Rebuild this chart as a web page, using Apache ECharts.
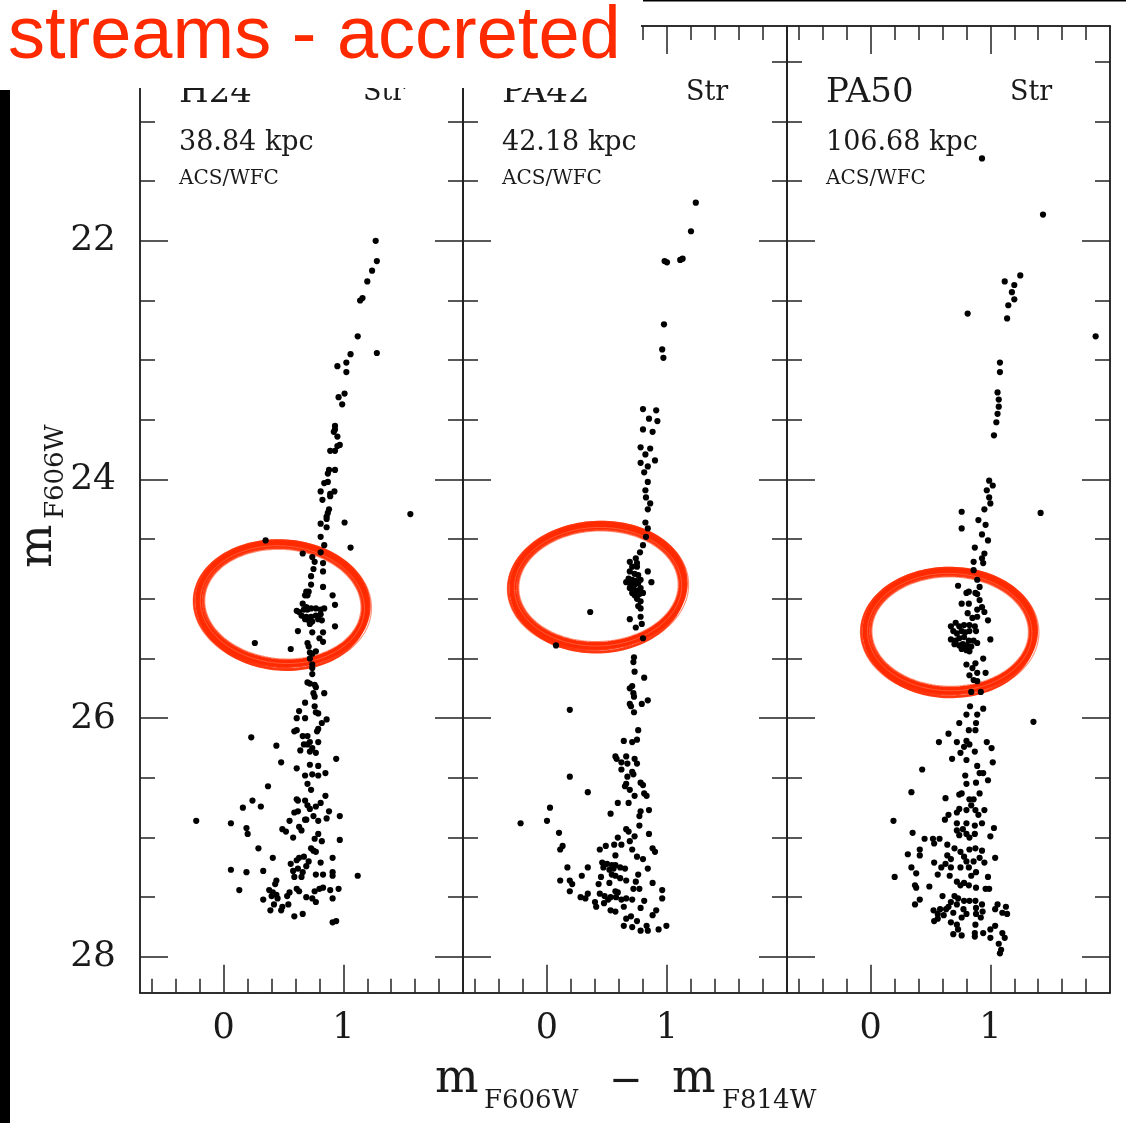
<!DOCTYPE html>
<html>
<head>
<meta charset="utf-8">
<script src="https://cdn.jsdelivr.net/npm/echarts@6/dist/echarts.min.js"></script>
<style>
html, body { margin: 0; padding: 0; background: #fff; }
#chart { width: 1126px; height: 1123px; }
</style>
</head>
<body>
<div id="chart"></div>
<script>
// ---- field metadata ----
const fieldNames = ['H24', 'PA42', 'PA50'];
const fieldDistances = ['38.84 kpc', '42.18 kpc', '106.68 kpc'];
const fieldCamera = ['ACS/WFC', 'ACS/WFC', 'ACS/WFC'];
const fieldFlag = ['Str', 'Str', 'Str'];

// ---- axes: colour (F606W - F814W) and magnitude (F606W) ----
const colorRange = [-0.7, 2.0];
const magRange = [20.2, 28.3];
const colorTicksMajor = [0, 1];
const colorTicksMinor = [-0.6, -0.4, -0.2, 0.2, 0.4, 0.6, 0.8, 1.2, 1.4, 1.6, 1.8];
const magTicksMajor = [22, 24, 26, 28];
const magTicksMinor = [20.5, 21, 21.5, 22.5, 23, 23.5, 24.5, 25, 25.5, 26.5, 27, 27.5];

// ---- stars: [colour, magnitude] ----
const h24Stars = [
  [1.27,22.00],[1.28,22.17],[1.24,22.25],[1.20,22.34],[1.14,22.50],[1.16,22.48],[1.12,22.80],[1.28,22.94],
  [1.06,22.95],[1.025,23.02],[0.95,23.05],[1.025,23.10],[1.01,23.28],[0.96,23.31],[0.99,23.37],[0.93,23.55],
  [0.93,23.58],[0.92,23.60],[0.95,23.64],[0.97,23.71],[0.95,23.72],[0.89,23.76],[0.93,23.76],[0.88,23.92],
  [0.93,23.92],[0.87,23.95],[0.84,24.03],[0.87,24.02],[0.81,24.10],[0.89,24.12],[0.925,24.10],[0.89,24.14],
  [0.825,24.17],[0.88,24.25],[0.87,24.28],[0.86,24.31],[0.86,24.33],[1.01,24.36],[0.81,24.37],[0.86,24.40],
  [1.56,24.29],[0.81,24.48],[1.06,24.57],[0.84,24.55],[0.81,24.61],[0.66,24.62],[0.74,24.65],[0.35,24.51],
  [0.76,24.69],[0.83,24.70],[0.75,24.75],[0.83,24.77],[0.73,24.81],[0.73,24.88],[0.83,24.90],[0.69,24.94],
  [0.71,24.94],[0.70,24.97],[0.68,24.97],[0.91,24.97],[0.93,25.05],[0.66,25.04],[0.69,25.07],
  [0.61,25.10],[0.63,25.11],[0.67,25.09],[0.70,25.09],[0.73,25.08],[0.77,25.08],[0.81,25.09],[0.84,25.08],
  [0.65,25.14],[0.69,25.15],[0.73,25.15],[0.77,25.14],[0.81,25.13],[0.71,25.18],[0.74,25.19],[0.68,25.17],
  [0.79,25.17],[0.82,25.18],[0.72,25.21],[0.93,25.23],[0.62,25.27],[0.74,25.28],[0.83,25.28],[0.80,25.33],
  [0.83,25.36],[0.26,25.37],[0.70,25.37],[0.71,25.40],[0.56,25.42],[0.72,25.45],[0.74,25.46],[0.77,25.44],
  [0.72,25.50],[0.74,25.55],[0.74,25.58],[0.74,25.63],[0.70,25.70],[0.72,25.71],[0.76,25.72],[0.77,25.74],
  [0.75,25.79],[0.76,25.82],[0.84,25.79],[0.68,25.87],[0.76,25.90],[0.77,25.95],[0.79,25.96],[0.63,25.94],
  [0.61,26.00],[0.68,26.00],[0.86,26.01],[0.82,26.04],[0.59,26.11],[0.61,26.10],[0.79,26.09],[0.78,26.11],
  [0.23,26.16],[0.70,26.15],[0.66,26.15],[0.72,26.20],[0.67,26.22],[0.79,26.20],[0.70,26.22],[0.44,26.23],
  [0.74,26.25],[0.64,26.27],[0.77,26.29],[0.72,26.28],[0.94,26.34],[0.48,26.37],[0.72,26.39],[0.79,26.40],
  [0.61,26.42],[0.68,26.48],[0.74,26.47],[0.79,26.48],[0.85,26.46],[0.70,26.55],[0.37,26.57],[0.73,26.60],
  [0.61,26.68],[0.62,26.69],[0.68,26.69],[0.70,26.73],[0.72,26.76],[0.24,26.69],[0.85,26.65],[0.81,26.71],
  [0.77,26.74],[0.16,26.75],[0.31,26.74],[0.88,26.78],[0.59,26.79],[0.62,26.78],[0.97,26.82],[0.75,26.82],
  [0.68,26.85],[0.69,26.85],[0.79,26.86],[0.86,26.84],[0.55,26.86],[-0.23,26.86],[0.06,26.88],[0.63,26.91],
  [0.65,26.94],[0.19,26.92],[0.20,26.97],[0.49,26.93],[0.52,26.95],[0.58,27.00],[0.79,26.97],[0.76,27.01],
  [0.82,27.03],[0.97,27.02],[0.29,27.09],[0.73,27.09],[0.75,27.11],[0.77,27.12],[0.41,27.17],[0.63,27.17],
  [0.61,27.19],[0.67,27.16],[0.71,27.20],[0.91,27.17],[0.56,27.22],[0.69,27.24],[0.81,27.21],[0.06,27.27],
  [0.19,27.29],[0.33,27.28],[0.58,27.28],[0.62,27.26],[0.66,27.29],[0.59,27.33],[0.65,27.33],[0.77,27.31],
  [0.83,27.31],[0.91,27.29],[0.91,27.32],[1.12,27.32],[0.44,27.36],[0.43,27.39],[0.13,27.44],[0.38,27.44],
  [0.41,27.46],[0.44,27.48],[0.40,27.49],[0.55,27.46],[0.61,27.43],[0.63,27.45],[0.76,27.45],[0.80,27.43],
  [0.83,27.42],[0.89,27.44],[0.96,27.43],[0.33,27.52],[0.45,27.51],[0.53,27.49],[0.69,27.50],[0.74,27.51],
  [0.77,27.54],[0.91,27.51],[0.42,27.56],[0.49,27.58],[0.54,27.56],[0.39,27.61],[0.48,27.61],[0.59,27.66],
  [0.66,27.64],[0.91,27.71],[0.94,27.70]
];

const pa42Stars = [
  [1.24,21.68],[1.20,21.92],[0.98,22.17],[1.00,22.18],[1.11,22.16],[1.13,22.15],[0.975,22.70],[0.96,22.91],
  [0.97,22.98],[0.80,23.41],[0.91,23.42],[0.85,23.49],[0.92,23.51],[0.80,23.58],[0.88,23.60],[0.78,23.73],
  [0.86,23.74],[0.82,23.79],[0.78,23.86],[0.84,23.89],[0.90,23.84],[0.81,23.94],[0.84,24.02],[0.82,24.09],
  [0.825,24.15],[0.86,24.20],[0.84,24.25],[0.82,24.36],[0.84,24.41],[0.825,24.48],[0.80,24.55],[0.775,24.61],
  [0.74,24.66],
  [0.69,24.69],[0.75,24.70],[0.71,24.73],[0.75,24.73],[0.69,24.77],[0.73,24.79],[0.76,24.80],[0.68,24.83],
  [0.71,24.84],[0.74,24.85],[0.78,24.84],[0.66,24.86],[0.69,24.87],[0.73,24.88],[0.76,24.87],[0.69,24.91],
  [0.72,24.92],[0.75,24.93],[0.78,24.91],[0.71,24.95],[0.73,24.97],[0.77,24.96],[0.75,25.00],[0.78,25.02],
  [0.76,25.06],[0.78,25.08],[0.84,24.77],[0.87,24.86],[0.80,24.95],
  [0.36,25.11],[0.69,25.17],[0.78,25.15],[0.79,25.21],[0.74,25.24],[0.80,25.33],[0.075,25.39],[0.725,25.49],
  [0.72,25.53],[0.73,25.61],[0.81,25.66],[0.71,25.73],[0.69,25.75],[0.72,25.79],[0.725,25.82],[0.84,25.85],
  [0.79,25.88],[0.69,25.88],[0.70,25.90],[0.725,25.95],[0.19,25.93],[0.76,26.10],[0.75,26.18],[0.71,26.20],
  [0.64,26.19],[0.57,26.32],[0.58,26.34],[0.66,26.32],[0.62,26.37],[0.67,26.38],[0.73,26.34],[0.75,26.38],
  [0.62,26.43],[0.71,26.45],[0.72,26.47],[0.67,26.49],[0.19,26.49],[0.66,26.55],[0.65,26.57],[0.78,26.54],
  [0.80,26.56],[0.69,26.60],[0.34,26.62],[0.73,26.65],[0.81,26.63],[0.83,26.65],[0.59,26.71],[0.68,26.71],
  [0.025,26.75],[0.78,26.78],[0.85,26.77],[0.77,26.82],[0.53,26.80],[0.00,26.86],[-0.22,26.88],[0.77,26.90],
  [0.66,26.93],[0.68,26.95],[0.10,26.96],[0.85,26.97],[0.59,27.00],[0.73,26.99],[0.69,27.03],[0.62,27.06],
  [0.56,27.06],[0.13,27.07],[0.11,27.10],[0.44,27.10],[0.49,27.07],[0.71,27.10],[0.88,27.09],[0.90,27.12],
  [0.57,27.15],[0.75,27.16],[0.80,27.18],[0.46,27.21],[0.50,27.22],[0.54,27.23],[0.57,27.23],[0.47,27.25],
  [0.61,27.25],[0.65,27.26],[0.52,27.27],[0.555,27.26],[0.34,27.25],[0.17,27.25],[0.84,27.26],[0.54,27.31],
  [0.76,27.31],[0.29,27.32],[0.45,27.33],[0.57,27.32],[0.61,27.34],[0.11,27.36],[0.19,27.36],[0.21,27.39],
  [0.43,27.39],[0.52,27.38],[0.66,27.36],[0.74,27.37],[0.88,27.38],[0.19,27.45],[0.34,27.47],[0.28,27.50],
  [0.32,27.51],[0.44,27.47],[0.48,27.49],[0.53,27.50],[0.57,27.45],[0.59,27.46],[0.575,27.50],[0.51,27.52],
  [0.62,27.52],[0.66,27.51],[0.71,27.52],[0.72,27.43],[0.77,27.43],[0.96,27.44],[0.96,27.51],[0.81,27.53],
  [0.40,27.54],[0.41,27.58],[0.475,27.55],[0.53,27.61],[0.57,27.62],[0.64,27.58],[0.66,27.68],[0.70,27.66],
  [0.78,27.59],[0.88,27.65],[0.91,27.61],[0.64,27.74],[0.71,27.75],[0.78,27.78],[0.83,27.74],[0.84,27.78],
  [0.93,27.77],[0.995,27.74],[0.75,27.70]
];

const pa50Stars = [
  [0.93,21.31],[1.44,21.78],[1.88,22.80],[0.81,22.61],[1.12,22.34],[1.25,22.29],[1.20,22.37],[1.18,22.43],
  [1.20,22.49],[1.15,22.54],[1.14,22.65],[1.08,23.02],[1.08,23.10],[1.06,23.27],[1.07,23.33],[1.07,23.39],
  [1.06,23.45],[1.05,23.52],[1.03,23.63],[0.99,24.01],[1.02,24.05],[0.97,24.09],[0.99,24.15],[1.00,24.20],
  [0.95,24.25],[0.76,24.27],[0.90,24.34],[0.96,24.38],[0.76,24.41],[0.93,24.46],[0.98,24.51],[0.87,24.57],
  [0.95,24.62],[0.93,24.66],[1.42,24.28],
  [0.86,24.69],[0.94,24.70],[0.86,24.76],[0.89,24.84],[0.91,24.90],[0.875,24.95],[0.89,24.96],[0.73,24.89],
  [0.80,24.95],[0.82,24.94],[0.76,25.04],[0.82,25.04],[0.91,25.01],[0.93,25.07],[0.89,25.09],[0.95,25.11],
  [0.81,25.12],[0.85,25.16],[0.98,25.18],[0.89,25.15],
  [0.67,25.23],[0.71,25.20],[0.74,25.23],[0.78,25.22],[0.825,25.22],[0.87,25.23],[0.69,25.27],[0.72,25.29],
  [0.76,25.27],[0.79,25.28],[0.825,25.27],[0.88,25.27],[0.67,25.34],[0.71,25.35],[0.74,25.33],[0.78,25.32],
  [0.82,25.35],[0.86,25.35],[0.70,25.38],[0.74,25.39],[0.77,25.38],[0.80,25.39],[0.84,25.40],[0.76,25.42],
  [0.80,25.43],[0.825,25.44],[1.00,25.34],[0.89,25.37],[0.94,25.50],[0.80,25.55],[0.875,25.54],[0.85,25.58],
  [0.89,25.62],[0.96,25.62],[0.825,25.64],[0.86,25.68],[0.89,25.69],[0.92,25.78],[0.84,25.78],[0.83,25.90],
  [0.94,25.92],[0.80,25.97],[0.89,25.97],[0.74,26.04],[0.82,26.10],[0.875,26.10],[0.88,26.04],[0.65,26.13],
  [0.72,26.20],[0.80,26.19],[0.97,26.20],[0.825,26.22],[0.78,26.24],[0.87,26.28],[0.75,26.29],[1.01,26.25],
  [0.68,26.34],[0.80,26.35],[1.36,26.03],[0.57,26.20],[0.43,26.43],[1.02,26.37],
  [0.89,26.40],[0.91,26.46],[0.94,26.46],[0.98,26.52],[0.79,26.48],[0.88,26.54],[0.80,26.55],[0.76,26.63],
  [0.74,26.64],[0.91,26.63],[0.825,26.68],[0.86,26.68],[0.84,26.73],[0.80,26.77],[0.875,26.77],[0.74,26.76],
  [0.95,26.77],[0.90,26.81],[0.34,26.62],[0.625,26.67],[0.62,26.85],[0.65,26.81],[0.72,26.79],[0.19,26.86],
  [0.72,26.88],[0.80,26.88],[0.87,26.90],[0.93,26.88],[1.03,26.92],[0.72,26.94],[0.77,26.93],[0.80,26.97],
  [0.74,26.98],[0.87,26.97],[1.00,26.99],[0.825,27.00],[0.35,26.96],[0.45,27.01],[0.52,27.01],[0.575,27.01],
  [0.53,27.05],[0.64,27.06],[0.70,27.09],[0.75,27.12],[0.825,27.10],[0.875,27.09],[0.93,27.11],[1.04,27.17],
  [0.31,27.14],[0.41,27.10],[0.41,27.15],[0.64,27.15],[0.67,27.18],[0.78,27.16],[0.80,27.20],[0.86,27.20],
  [0.91,27.17],[0.95,27.21],[0.53,27.21],[0.625,27.22],[0.67,27.25],[0.59,27.25],[0.75,27.25],[0.82,27.25],
  [0.88,27.29],[0.84,27.32],[0.34,27.25],[0.38,27.30],[0.56,27.31],[0.66,27.32],[0.20,27.33],[0.98,27.33],
  [0.72,27.37],[0.78,27.38],[0.82,27.40],[0.75,27.40],[0.88,27.42],[0.96,27.43],[0.99,27.43],[0.37,27.40],
  [0.38,27.42],[0.49,27.41],[0.60,27.49],[0.70,27.49],[0.73,27.51],[0.78,27.53],[0.825,27.53],[0.875,27.53],
  [0.72,27.56],[0.67,27.54],[0.41,27.52],[0.37,27.56],[0.65,27.58],[0.63,27.60],[0.58,27.60],[0.525,27.61],
  [0.56,27.64],[0.61,27.65],[0.69,27.63],[0.775,27.60],[0.80,27.64],[0.76,27.67],[0.88,27.59],[0.93,27.56],
  [0.935,27.62],[0.88,27.64],[0.92,27.67],[1.06,27.56],[1.13,27.58],[1.10,27.63],[1.14,27.64],[1.04,27.60],
  [0.56,27.68],[0.53,27.70],[0.67,27.71],[0.72,27.73],[0.875,27.73],[0.73,27.77],[0.69,27.81],[0.76,27.82],
  [0.87,27.80],[0.87,27.83],[0.94,27.80],[1.00,27.77],[1.04,27.74],[1.10,27.80],[1.12,27.84],[1.00,27.84],
  [1.07,27.89],[1.09,27.94],[1.08,27.97]
];

// ---- highlighted red clump rings: [colour centre, magnitude centre, colour radius, magnitude radius, tilt in degrees] ----
const h24Ring = [0.49, 25.04, 0.70, 0.50, 4];
const pa42Ring = [0.425, 24.89, 0.71, 0.505, -3];
const pa50Ring = [0.66, 25.27, 0.70, 0.50, 0];

const panelStars = [h24Stars, pa42Stars, pa50Stars];
const panelRings = [h24Ring, pa42Ring, pa50Ring];

// ---- layout ----
const panelLeft = [140, 463, 787];
const panelWidth = [323, 324, 323];
const panelTop = 26;
const panelHeight = 966.7;

const ink = '#1a1a1a';
const frameColor = '#222';
const serif = '"DejaVu Serif", "Liberation Serif", serif';
const ringRed = '#ff2a00';

// hand-drawn look: soft outer strokes first, the solid marker stroke on top
// (da/db: extra radii in px, dx/dy: shift, dt: extra tilt in rad)
const ringStrokes = [
  { da: 5.5,  db: 5,    dx: 0,    dy: 1,   dt: 0.005,  w: 1.2, c: '#ff6a48', o: 0.7 },
  { da: -5.5, db: -5,   dx: 0.5,  dy: 0.5, dt: 0.012,  w: 1.2, c: '#ff6a48', o: 0.7 },
  { da: 4,    db: 3.5,  dx: -0.5, dy: 0,   dt: -0.01,  w: 2.4, c: ringRed,   o: 0.9 },
  { da: -4,   db: -3.5, dx: 0.5,  dy: 0.5, dt: 0.012,  w: 2.4, c: ringRed,   o: 0.9 },
  { da: 1,    db: 3,    dx: 0,    dy: 3,   dt: 0.015,  w: 3,   c: ringRed,   o: 0.9 },
  { da: 0,    db: 0,    dx: 0,    dy: 0,   dt: 0,      w: 7,   c: ringRed,   o: 1 },
  { da: -1.5, db: -1,   dx: 0,    dy: 1,   dt: 0.02,   w: 0.8, c: '#ff8a70', o: 0.6 }
];

function ringItem(params, api) {
  const c = api.coord([api.value(0), api.value(1)]);
  const r = api.size([api.value(2), api.value(3)]);
  const tilt = api.value(4) * Math.PI / 180;
  const children = ringStrokes.map(function (st) {
    const pts = [];
    const a = r[0] + st.da, b = r[1] + st.db, th = tilt + st.dt;
    for (let k = 0; k <= 144; k++) {
      const t = k / 144 * Math.PI * 2;
      const ex = a * Math.cos(t), ey = b * Math.sin(t);
      pts.push([
        c[0] + ex * Math.cos(th) - ey * Math.sin(th) + st.dx,
        c[1] + ex * Math.sin(th) + ey * Math.cos(th) + st.dy
      ]);
    }
    return {
      type: 'polyline',
      shape: { points: pts },
      style: { stroke: st.c, lineWidth: st.w, fill: null, opacity: st.o }
    };
  });
  return { type: 'group', children: children };
}

function tickSpec(values, length) {
  return { show: true, inside: true, length: length, customValues: values,
           lineStyle: { color: frameColor, width: 1.5 } };
}

const grids = [], xAxes = [], yAxes = [], series = [], graphic = [];

for (let i = 0; i < 3; i++) {
  grids.push({ left: panelLeft[i], top: panelTop, width: panelWidth[i], height: panelHeight,
               outerBoundsMode: 'none' });

  const xBase = { gridIndex: i, type: 'value', min: colorRange[0], max: colorRange[1],
                  splitLine: { show: false }, axisLabel: { show: false },
                  axisLine: { show: true, onZero: false, lineStyle: { color: frameColor, width: 1.5 } } };
  xAxes.push(Object.assign({}, xBase, { position: 'bottom', axisTick: tickSpec(colorTicksMajor, 28),
    axisLabel: { show: true, customValues: colorTicksMajor, margin: 19, fontFamily: serif,
                 fontSize: 35, color: ink } }));
  xAxes.push(Object.assign({}, xBase, { position: 'bottom', axisTick: tickSpec(colorTicksMinor, 14) }));
  xAxes.push(Object.assign({}, xBase, { position: 'top', axisTick: tickSpec(colorTicksMajor, 28) }));
  xAxes.push(Object.assign({}, xBase, { position: 'top', axisTick: tickSpec(colorTicksMinor, 14) }));

  const yBase = { gridIndex: i, type: 'value', inverse: true, min: magRange[0], max: magRange[1],
                  splitLine: { show: false }, axisLabel: { show: false },
                  axisLine: { show: true, onZero: false, lineStyle: { color: frameColor, width: 1.5 } } };
  yAxes.push(Object.assign({}, yBase, { position: 'left', axisTick: tickSpec(magTicksMajor, 28),
    axisLabel: { show: i === 0, customValues: magTicksMajor, margin: 24, fontFamily: serif,
                 fontSize: 36, color: ink } }));
  yAxes.push(Object.assign({}, yBase, { position: 'left', axisTick: tickSpec(magTicksMinor, 15) }));
  yAxes.push(Object.assign({}, yBase, { position: 'right', axisTick: tickSpec(magTicksMajor, 28) }));
  yAxes.push(Object.assign({}, yBase, { position: 'right', axisTick: tickSpec(magTicksMinor, 15) }));

  series.push({
    type: 'custom', name: fieldNames[i] + ' ring', xAxisIndex: 4 * i, yAxisIndex: 4 * i,
    data: [panelRings[i]], renderItem: ringItem, clip: false, silent: true, z: 1
  });
  series.push({
    type: 'scatter', name: fieldNames[i], xAxisIndex: 4 * i, yAxisIndex: 4 * i,
    data: panelStars[i], symbol: 'circle', symbolSize: 6.2,
    itemStyle: { color: '#000', opacity: 1 }, silent: true, z: 3
  });

  // panel annotations
  const L = panelLeft[i];
  graphic.push({ type: 'text', z: 10, style: { text: fieldNames[i], x: L + 39, y: 93,
    font: '34px ' + serif, fill: ink, textAlign: 'left', textVerticalAlign: 'middle' } });
  graphic.push({ type: 'text', z: 10, style: { text: fieldFlag[i], x: L + 223, y: 93,
    font: '27px ' + serif, fill: ink, textAlign: 'left', textVerticalAlign: 'middle' } });
  graphic.push({ type: 'text', z: 10, style: { text: fieldDistances[i], x: L + 39, y: 143,
    font: '27px ' + serif, fill: ink, textAlign: 'left', textVerticalAlign: 'middle' } });
  graphic.push({ type: 'text', z: 10, style: { text: fieldCamera[i], x: L + 39, y: 179,
    font: '20px ' + serif, fill: ink, textAlign: 'left', textVerticalAlign: 'middle' } });
}

// axis titles
const bigM = '46px ' + serif, subF = '26px ' + serif;
graphic.push(
  { type: 'text', z: 10, style: { text: 'm', x: 435, y: 1080, font: bigM, fill: ink, textVerticalAlign: 'middle' } },
  { type: 'text', z: 10, style: { text: 'F606W', x: 484, y: 1101, font: subF, fill: ink, textVerticalAlign: 'middle' } },
  { type: 'text', z: 10, style: { text: '\u2212', x: 626, y: 1083, font: '40px ' + serif, fill: ink,
    textAlign: 'center', textVerticalAlign: 'middle' } },
  { type: 'text', z: 10, style: { text: 'm', x: 672, y: 1080, font: bigM, fill: ink, textVerticalAlign: 'middle' } },
  { type: 'text', z: 10, style: { text: 'F814W', x: 722, y: 1101, font: subF, fill: ink, textVerticalAlign: 'middle' } },
  { type: 'group', x: 39, y: 568, rotation: Math.PI / 2, z: 10, children: [
    { type: 'text', z: 10, style: { text: 'm', x: 0, y: 0, font: bigM, fill: ink, textVerticalAlign: 'middle' } },
    { type: 'text', z: 10, style: { text: 'F606W', x: 49, y: 17, font: subF, fill: ink, textVerticalAlign: 'middle' } }
  ] }
);

// slide overlay: heading box, left bar, top rule
graphic.push(
  { type: 'rect', z: 50, shape: { x: 0, y: 0, width: 641, height: 88 }, style: { fill: '#fff' } },
  { type: 'text', z: 60, style: { text: 'streams - accreted', x: 8, y: 38,
    font: '74px "Liberation Sans", Arial, sans-serif', fill: ringRed, textVerticalAlign: 'middle' } },
  { type: 'rect', z: 60, shape: { x: 0, y: 90, width: 10, height: 1033 }, style: { fill: '#000' } },
  { type: 'rect', z: 60, shape: { x: 643, y: 0, width: 483, height: 1.5 }, style: { fill: '#000' } }
);

const chart = echarts.init(document.getElementById('chart'), null, { renderer: 'canvas' });
chart.setOption({
  animation: false,
  backgroundColor: '#fff',
  grid: grids,
  xAxis: xAxes,
  yAxis: yAxes,
  series: series,
  graphic: graphic
});
</script>
</body>
</html>
